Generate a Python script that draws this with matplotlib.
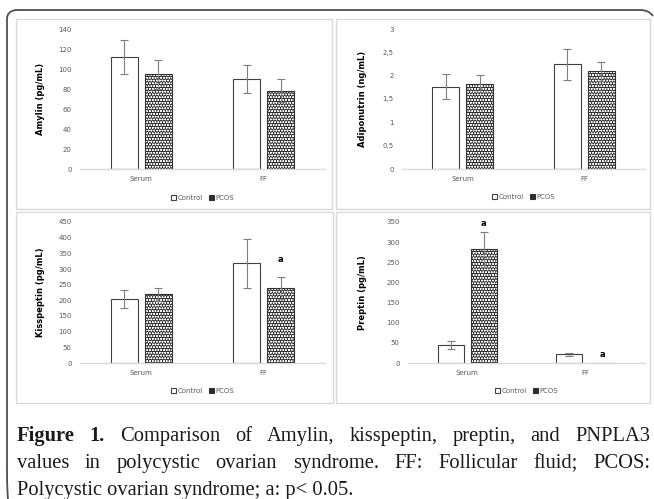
import matplotlib
matplotlib.use("Agg")
import matplotlib.pyplot as plt
import numpy as np
from matplotlib.patches import Rectangle, Patch, PathPatch
from matplotlib.path import Path

# ---------------- data ----------------
categories = ["Serum", "FF"]
groups = ["Control", "PCOS"]

amylin_ctrl = [112, 90]
amylin_ctrl_err = [17, 14]
amylin_pcos = [95, 78.5]
amylin_pcos_err = [14.5, 11.5]

adipo_ctrl = [1.76, 2.24]
adipo_ctrl_err = [0.27, 0.34]
adipo_pcos = [1.83, 2.09]
adipo_pcos_err = [0.18, 0.2]

kiss_ctrl = [204, 318]
kiss_ctrl_err = [29, 79]
kiss_pcos = [219, 239]
kiss_pcos_err = [21, 34]

prep_ctrl = [45, 22]
prep_ctrl_err = [10, 4]
prep_pcos = [282, 0]
prep_pcos_err = [43, np.nan]

amylin_ticks = [0, 20, 40, 60, 80, 100, 120, 140]
adipo_ticks = [0, 0.5, 1, 1.5, 2, 2.5, 3]
adipo_ticklabels = ["0", "0,5", "1", "1,5", "2", "2,5", "3"]
kiss_ticks = [0, 50, 100, 150, 200, 250, 300, 350, 400, 450]
prep_ticks = [0, 50, 100, 150, 200, 250, 300, 350]

# significance marks: (category index, y value)
kiss_sig = [(1, 329)]
prep_sig = [(0, 347), (1, 22)]

caption_bold = "Figure 1."
caption_line1 = "Comparison of Amylin, kisspeptin, preptin, and PNPLA3"
caption_line2 = "values in polycystic ovarian syndrome. FF: Follicular fluid; PCOS:"
caption_line3 = "Polycystic ovarian syndrome; a: p< 0.05."

# ---------------- layout ----------------
W, H = 654, 499
fig = plt.figure(figsize=(W / 100, H / 100), dpi=100)
plt.rcParams['hatch.linewidth'] = 0.45


def px_axes(x0, y0, x1, y1):
    return fig.add_axes([x0 / W, 1 - y1 / H, (x1 - x0) / W, (y1 - y0) / H])


# overlay for borders
ov = fig.add_axes([0, 0, 1, 1], zorder=-5)
ov.set_xlim(0, W)
ov.set_ylim(H, 0)
ov.axis("off")

for (x0, y0, x1, y1) in [(16, 19, 332, 209), (336, 19, 650, 209),
                         (16, 212, 333, 403), (336, 212, 650, 403)]:
    ov.add_patch(Rectangle((x0, y0), x1 - x0, y1 - y0, fill=False,
                           edgecolor="#d9d9d9", lw=1.0))

verts = [(9, 505), (7, 499), (7, 470), (7, 19), (7, 11), (16, 10),
         (640, 10), (649, 10), (653, 16)]
codes = [Path.MOVETO, Path.CURVE3, Path.CURVE3, Path.LINETO, Path.CURVE3, Path.CURVE3,
         Path.LINETO, Path.CURVE3, Path.CURVE3]
ov.add_patch(PathPatch(Path(verts, codes), fill=False, edgecolor="#505050", lw=1.3))

tick_color = "#595959"
x = np.arange(len(categories))
off = 0.14
bw = 0.22
pat_face = "#2e2e2e"
pat_hatch = "oooooo"


def panel(box, ctrl, ctrl_err, pcos, pcos_err, ticks, ticklabels, ymax, ylabel,
          ylabel_x, legend_y, sig=None):
    ax = px_axes(*box)
    ax.set_xlim(-0.5, len(categories) - 0.5)
    ax.set_ylim(0, ymax)
    ekw = dict(ecolor="#7f7f7f", elinewidth=0.8, capsize=3, capthick=0.8)
    ax.bar(x - off, ctrl, bw, color="white", edgecolor="#404040", lw=0.8,
           yerr=ctrl_err, error_kw=ekw, zorder=2)
    ax.bar(x + off, pcos, bw, color=pat_face, edgecolor="white", lw=0,
           hatch=pat_hatch, zorder=2)
    ax.bar(x + off, pcos, bw, fill=False, edgecolor="#303030", lw=0.8,
           yerr=pcos_err, error_kw=ekw, zorder=3)
    ax.set_yticks(ticks)
    ax.set_yticklabels(ticklabels, fontsize=5, color=tick_color)
    ax.set_xticks(x)
    ax.set_xticklabels(categories, fontsize=5, color=tick_color)
    ax.tick_params(length=0, pad=6)
    ax.tick_params(axis="x", pad=5)
    for s in ["top", "right", "left"]:
        ax.spines[s].set_visible(False)
    ax.spines["bottom"].set_color("#d9d9d9")
    ax.spines["bottom"].set_linewidth(1.0)
    ax.set_ylabel(ylabel, fontsize=6, fontweight="bold", color="black")
    ax.yaxis.set_label_coords((ylabel_x - box[0]) / (box[2] - box[0]), 0.5)
    if sig:
        for ci, yv in sig:
            ax.text(ci + off, yv, "a", fontsize=6, fontweight="bold",
                    ha="center", va="center")
    h1 = Patch(facecolor="white", edgecolor="#404040", lw=0.8)
    h2 = Patch(facecolor=pat_face, edgecolor="#303030", lw=0.8)
    leg = ax.legend([h1, h2], groups, loc="center",
                    bbox_to_anchor=(0.5, 1 - (legend_y - box[1]) / (box[3] - box[1])),
                    ncol=2, frameon=False, fontsize=5, handlelength=0.8,
                    handleheight=0.8, handletextpad=0.2, columnspacing=0.8)
    for t in leg.get_texts():
        t.set_color(tick_color)
    return ax


panel((80, 29, 325, 169), amylin_ctrl, amylin_ctrl_err, amylin_pcos, amylin_pcos_err,
      amylin_ticks, [str(t) for t in amylin_ticks], 140, "Amylin (pg/mL)", 45, 198)
panel((402, 29, 645, 169), adipo_ctrl, adipo_ctrl_err, adipo_pcos, adipo_pcos_err,
      adipo_ticks, adipo_ticklabels, 3, "Adiponutrin (ng/mL)", 367, 197)
panel((80, 222, 325, 363), kiss_ctrl, kiss_ctrl_err, kiss_pcos, kiss_pcos_err,
      kiss_ticks, [str(t) for t in kiss_ticks], 450, "Kisspeptin (pg/mL)", 45, 391,
      sig=kiss_sig)
panel((408, 222, 645, 363), prep_ctrl, prep_ctrl_err, prep_pcos, prep_pcos_err,
      prep_ticks, [str(t) for t in prep_ticks], 350, "Preptin (pg/mL)", 367, 391,
      sig=prep_sig)

# ---------------- caption (justified) ----------------
serif = "Liberation Serif"
fs = 14.8
fig.canvas.draw()
renderer = fig.canvas.get_renderer()


def text_px(xp, yp, s, bold=False):
    return fig.text(xp / W, 1 - yp / H, s, fontsize=fs, family=serif,
                    fontweight="bold" if bold else "normal", ha="left",
                    va="baseline", color="#1a1a1a")


def justify(words, y, x0=17, x1=650, bold_first=0):
    arts, widths = [], []
    for i, w in enumerate(words):
        t = text_px(0, y, w, bold=(i < bold_first))
        arts.append(t)
        widths.append(t.get_window_extent(renderer).width)
    gap = (x1 - x0 - sum(widths)) / (len(words) - 1)
    xp = x0
    for t, wdt in zip(arts, widths):
        t.set_position((xp / W, 1 - y / H))
        xp += wdt + gap


justify(caption_bold.split() + caption_line1.split(), 441, bold_first=2)
justify(caption_line2.split(), 468)
text_px(17, 495, caption_line3)

fig.savefig("out.png", dpi=100)
